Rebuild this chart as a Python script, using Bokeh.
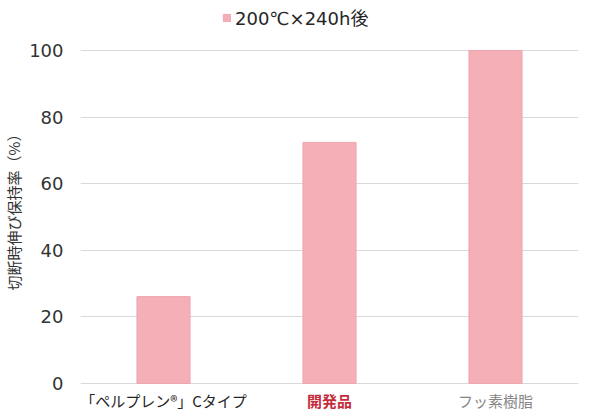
from bokeh.plotting import figure
from bokeh.models import Range1d, FixedTicker, Legend, LegendItem, Label, ColumnDataSource
from bokeh.embed import file_html
from bokeh.resources import INLINE

categories = ["「ペルプレン®」Cタイプ", "開発品", "フッ素樹脂"]
values = [26.1, 72.4, 100.0]
label_colors = ["#262626", "#C42E3C", "#858585"]
label_bold = ["normal", "bold", "normal"]
y_ticks = [0, 20, 40, 60, 80, 100]
series_name = "200℃×240h後"
y_title = "切断時伸び保持率（%）"

FONT = "Noto Sans CJK JP"
NUMFONT = "'DejaVu Sans', 'Noto Sans CJK JP'"
BAR = "#F4AFB7"

p = figure(x_range=categories, width=590, height=416, output_backend="svg",
           toolbar_location=None, min_border_left=78, min_border_right=12,
           min_border_top=0, min_border_bottom=0)
# extra room below 0 and above 100 holds the category labels and legend
p.y_range = Range1d(-9.9, 115.0)
src = ColumnDataSource(dict(x=categories, top=values))
r = p.vbar(x="x", top="top", width=0.32, source=src, fill_color=BAR, line_color="#EFA6AF")

p.outline_line_color = None
p.xaxis.visible = False
p.xgrid.visible = False
p.ygrid.grid_line_color = "#D9D9D9"
p.ygrid.grid_line_width = 1
p.yaxis.ticker = FixedTicker(ticks=y_ticks)
p.yaxis.axis_line_color = None
p.yaxis.major_tick_line_color = None
p.yaxis.minor_tick_line_color = None
p.yaxis.major_label_text_font = NUMFONT
p.yaxis.major_label_text_font_size = "18px"
p.yaxis.major_label_text_color = "#333333"
p.yaxis.major_label_standoff = 11
p.yaxis.axis_label = y_title
p.yaxis.axis_label_text_font = FONT
p.yaxis.axis_label_text_font_size = "15px"
p.yaxis.axis_label_text_font_style = "normal"
p.yaxis.axis_label_text_color = "#333333"
p.yaxis.axis_label_standoff = 2

# categorical factors sit at synthetic coordinates i + 0.5
for i, (cat, col, fs) in enumerate(zip(categories, label_colors, label_bold)):
    p.add_layout(Label(x=i + 0.5, y=0, y_offset=-17, text=cat, text_font=FONT,
                       text_font_size="15px", text_color=col, text_font_style=fs,
                       text_align="center", text_baseline="middle"))

legend = Legend(items=[LegendItem(label=series_name, renderers=[r])],
                orientation="horizontal", location=(142, 386),
                label_text_font=NUMFONT, label_text_font_size="18px",
                label_text_color="#262626", glyph_width=9, glyph_height=9,
                border_line_color=None, background_fill_alpha=0,
                padding=0, margin=0, label_standoff=4)
p.add_layout(legend)

open("out.html", "w").write(file_html(p, INLINE))
